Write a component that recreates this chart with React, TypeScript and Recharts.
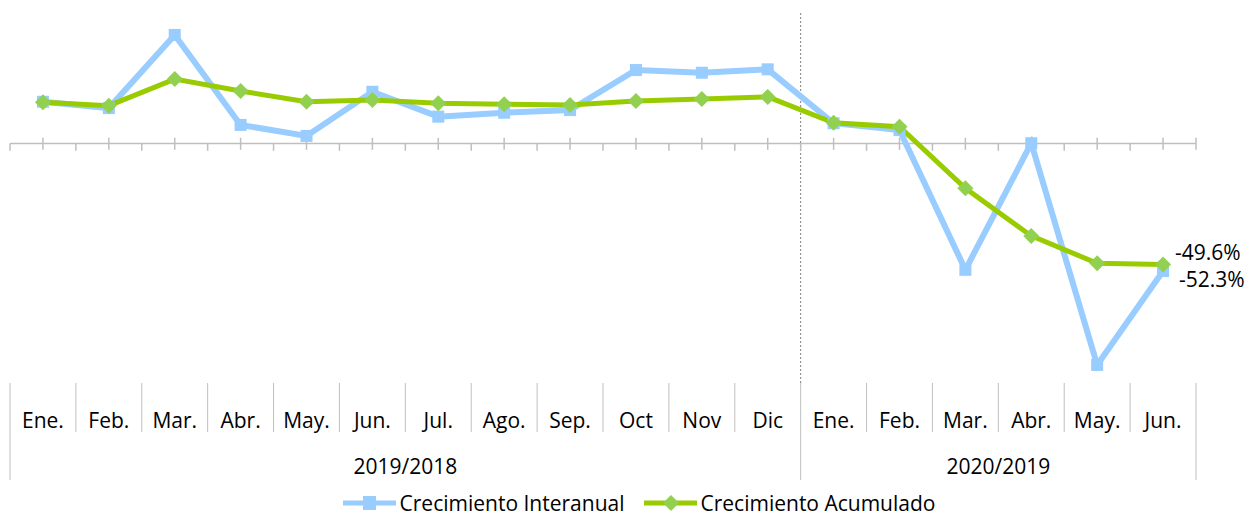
import React from "react";
import {
    LineChart,
    Line,
    XAxis,
    YAxis,
    ReferenceLine,
    LabelList,
} from "recharts";

const months = [
    "Ene.", "Feb.", "Mar.", "Abr.", "May.", "Jun.", "Jul.", "Ago.", "Sep.",
    "Oct", "Nov", "Dic", "Ene.", "Feb.", "Mar.", "Abr.", "May.", "Jun.",
];
const periods = ["2019/2018", "2020/2019"];
const periodLengths = [12, 6];
const interanual = [
    17.1, 14.5, 44.5, 7.6, 3.1, 21.2, 11.0, 12.6, 13.7, 30.1, 29.0, 30.4,
    8.3, 5.5, -51.8, 0.1, -90.8, -52.3,
];
const acumulado = [
    16.9, 15.5, 26.4, 21.5, 17.1, 17.8, 16.5, 16.1, 15.8, 17.4, 18.2, 19.1,
    8.5, 6.9, -18.4, -37.9, -49.1, -49.6,
];
const seriesNames = ["Crecimiento Interanual", "Crecimiento Acumulado"];

const BLUE = "#99CCFF";
const GREEN = "#99CC00";
const DIAMOND = "#92D050";
const AXIS = "#BFBFBF";
const FONT = "'Open Sans', sans-serif";
const FS = 21;

const data = months.map((m, i) => ({
    i,
    month: m,
    interanual: interanual[i],
    acumulado: acumulado[i],
}));
const last = months.length - 1;

// period boundaries and centres, in category index units
const bounds = [-0.5];
periodLengths.forEach((n) => bounds.push(bounds[bounds.length - 1] + n));
const periodCenters = periodLengths.map((n, k) => bounds[k] + n / 2);
const allTicks = [-0.5, ...months.flatMap((_, i) => [i, i + 0.5])];

function CategoryTick(props: any) {
    const { x, y, payload } = props;
    const v = payload.value;
    if (Number.isInteger(v)) {
        return (
            <text x={x} y={y + 45} textAnchor="middle" fontSize={FS} fontFamily={FONT} fill="#000">
                {months[v]}
            </text>
        );
    }
    const isGroup = bounds.includes(v);
    const p = periodCenters.indexOf(v);
    return (
        <g>
            <line x1={x} x2={x} y1={y} y2={y + (isGroup ? 97 : 49)} stroke={AXIS} strokeWidth={1} />
            {p >= 0 && (
                <text x={x} y={y + 91} textAnchor="middle" fontSize={FS} fontFamily={FONT} fill="#000">
                    {periods[p]}
                </text>
            )}
        </g>
    );
}

function SquareDot(props: any) {
    const { cx, cy, index } = props;
    return <rect key={`sq${index}`} x={cx - 6} y={cy - 6} width={12} height={12} fill={BLUE} />;
}

function DiamondDot(props: any) {
    const { cx, cy, index } = props;
    const r = 8;
    return (
        <polygon
            key={`dm${index}`}
            points={`${cx},${cy - r} ${cx + r},${cy} ${cx},${cy + r} ${cx - r},${cy}`}
            fill={DIAMOND}
        />
    );
}

function endLabel(dx: number, dy: number) {
    return (props: any) => {
        const { x, y, value, index } = props;
        if (index !== last) return null;
        return (
            <text x={x + dx} y={y + dy} fontSize={FS} fontFamily={FONT} fill="#000" dominantBaseline="middle">
                {`${value.toFixed(1)}%`}
            </text>
        );
    };
}

function ChartLegend() {
    const item = (name: string, color: string, marker: React.ReactNode, gap: number) => (
        <div style={{ display: "flex", alignItems: "center", marginRight: gap }}>
            <svg width={57} height={16}>
                <line x1={0} x2={53} y1={8} y2={8} stroke={color} strokeWidth={5} />
                {marker}
            </svg>
            <span style={{ fontFamily: FONT, fontSize: FS, color: "#000", lineHeight: "20px", whiteSpace: "nowrap" }}>
                {name}
            </span>
        </div>
    );
    return (
        <div
            style={{
                position: "absolute",
                left: 0,
                top: 492,
                width: 1256,
                height: 22,
                display: "flex",
                alignItems: "center",
                justifyContent: "center",
                paddingLeft: 22,
                boxSizing: "border-box",
            }}
        >
            {item(seriesNames[0], BLUE, <rect x={20} y={1} width={13} height={14} fill={BLUE} />, 19)}
            {item(seriesNames[1], GREEN, <polygon points="27,0 35,8 27,16 19,8" fill={DIAMOND} />, 0)}
        </div>
    );
}

export default function App() {
    return (
        <div style={{ position: "absolute", left: 0, top: 0, width: 1256, height: 516 }}>
            <LineChart
                width={1256}
                height={516}
                data={data}
                margin={{ top: 12, right: 60, bottom: 0, left: 10 }}
            >
                <XAxis
                    dataKey="i"
                    type="number"
                    domain={[-0.5, 17.5]}
                    ticks={allTicks}
                    interval={0}
                    axisLine={false}
                    tickLine={false}
                    tickSize={0}
                    tickMargin={0}
                    height={133}
                    tick={<CategoryTick />}
                />
                <YAxis type="number" domain={[-98.2, 53.9]} hide />
                <ReferenceLine x={11.5} stroke="#808080" strokeDasharray="2 2" strokeWidth={1} />
                <ReferenceLine y={0} stroke={AXIS} strokeWidth={1.5} />
                {allTicks.map((t) => (
                    <ReferenceLine
                        key={`zt${t}`}
                        segment={
                            Number.isInteger(t) || t === 17.5
                                ? [{ x: t, y: 2.3 }, { x: t, y: -2.6 }]
                                : [{ x: t, y: 0 }, { x: t, y: -3 }]
                        }
                        stroke={AXIS}
                        strokeWidth={1.5}
                    />
                ))}
                <Line
                    type="linear"
                    dataKey="interanual"
                    name={seriesNames[0]}
                    stroke={BLUE}
                    strokeWidth={6}
                    dot={SquareDot}
                    isAnimationActive={false}
                >
                    <LabelList dataKey="interanual" content={endLabel(16, 10)} />
                </Line>
                <Line
                    type="linear"
                    dataKey="acumulado"
                    name={seriesNames[1]}
                    stroke={GREEN}
                    strokeWidth={5}
                    dot={DiamondDot}
                    isAnimationActive={false}
                >
                    <LabelList dataKey="acumulado" content={endLabel(12, -10)} />
                </Line>
            </LineChart>
            <ChartLegend />
        </div>
    );
}
